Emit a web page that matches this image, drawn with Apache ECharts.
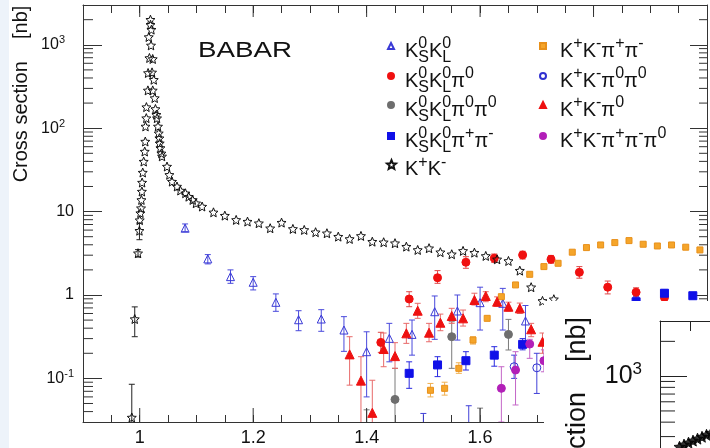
<!DOCTYPE html>
<html><head><meta charset="utf-8">
<script src="https://cdn.jsdelivr.net/npm/echarts@6/dist/echarts.min.js"></script>
<style>html,body{margin:0;padding:0;background:#fff}#c{width:710px;height:448px}</style>
</head><body><div id="c"></div>
<script>
// ---- data: [E (GeV), cross section (nb), errLow, errHigh] ----
const kk = [
[0.986,0.034,0.02,0.085],[0.9912,0.515,0.316,0.72],[0.997,3.17,2.85,3.5],[0.9995,5.9,4.6,7.3],
[1.0000,7.9],[1.0012,9.6],[1.0023,11.0],[1.0030,13.8],[1.0038,17.4],[1.0042,22.3],[1.0053,29.4],[1.0070,39.8],[1.0088,52.5],[1.0098,69.2],[1.0102,105],[1.0116,132],[1.0118,179],[1.0144,284],[1.0147,459],[1.0159,1240],[1.0171,695],[1.0189,2000],[1.0190,1740],[1.0199,984],[1.0206,1520],[1.0217,467],[1.0229,676],[1.0229,284],[1.0247,381],[1.0264,230],[1.0277,170],[1.0294,145],[1.0305,132],[1.0322,105],[1.0335,87],[1.0347,76],[1.0352,66],[1.0365,58],[1.0382,50],[1.0393,46],[1.0481,34.7],[1.0523,27.6],[1.0569,22.9],[1.0657,20.0],[1.0717,17.9],[1.0805,16.6],[1.0863,15.1],[1.0934,13.8],[1.0992,12.6],
[1.11,11.5],[1.13,9.8],[1.15,8.95],[1.17,7.95],[1.19,7.59],[1.21,7.26],[1.23,6.32],[1.25,7.38],[1.27,6.2],[1.29,6.03],[1.31,5.66],[1.33,5.5],[1.35,5.01],[1.37,4.70],[1.39,5.11],[1.41,4.36],[1.43,4.29],[1.45,4.18],[1.47,3.80],[1.49,3.47],[1.51,3.64],[1.53,3.26],[1.55,3.08],[1.57,3.38],[1.59,3.22],[1.61,2.94],[1.63,2.68],[1.65,2.56],[1.67,1.96],[1.69,1.24],[1.71,0.85],[1.73,0.89]
];
const ksklData = [
[1.08,6.32,5.75,7.11],[1.12,2.71,2.36,3.05],[1.16,1.66,1.38,2.0],[1.20,1.42,1.15,1.66],[1.24,0.817,0.637,1.03],[1.28,0.505,0.373,0.648],[1.32,0.515,0.367,0.667],[1.36,0.38,0.211,0.55],[1.40,0.209,0.06,0.362],[1.44,0.302,0.158,0.457],[1.48,0.337,0.19,0.501],[1.52,0.63,0.294,0.973],[1.56,0.643,0.288,1.0],[1.60,0.809,0.38,1.24],[1.64,0.795,0.38,1.2],[1.68,0.488,0.251,0.748]
];
const ksklPi0 = [
[1.425,0.27,0.205,0.357],[1.475,0.895,0.724,1.095],[1.525,1.61,1.38,1.96],[1.575,2.47,2.09,2.88],[1.625,2.76,2.45,3.1],[1.675,3.02,2.7,3.35],[1.725,2.68,2.4,2.98],[1.775,1.87,1.59,2.19],[1.825,1.24,1.03,1.47],[1.875,1.08,0.95,1.22],[1.925,0.93,0.8,1.06]
];
const ksklPi0Pi0 = [
[1.40,0.015,0.008,0.042],[1.45,0.056,0.02,0.132],[1.55,0.316,0.132,0.478],[1.60,0.015,0.008,0.044],[1.65,0.337,0.219,0.51]
];
const ksklPiPi = [
[1.475,0.115,0.076,0.158],[1.525,0.145,0.105,0.182],[1.575,0.163,0.126,0.209],[1.625,0.19,0.14,0.24],[1.675,0.256,0.22,0.30],[1.875,0.83,0.72,0.95],[1.925,1.05,0.96,1.15],[1.975,0.98,0.9,1.07]
];
const kkPiPi = [
[1.5125,0.072,0.06,0.087],[1.5375,0.076,0.063,0.09],[1.5625,0.132,0.115,0.154],[1.5875,0.288,0.258,0.316],[1.6125,0.525],[1.6375,0.954],[1.6625,1.32],[1.6875,1.77],[1.7125,2.19],[1.7375,2.40],[1.7625,3.26],[1.7875,3.70],[1.8125,3.98],[1.8375,4.25],[1.8625,4.49],[1.8875,4.06],[1.9125,3.87],[1.9375,3.98],[1.9625,3.74],[1.9875,3.47]
];
const kkPi0Pi0 = [
[1.50,0.015,0.008,0.038],[1.58,0.015,0.008,0.047],[1.66,0.138,0.10,0.19],[1.70,0.134,0.066,0.2]
];
const kkPi0 = [
[1.37,0.194,0.083,0.316],[1.39,0.094,0.02,0.182],[1.41,0.0386,0.02,0.095],[1.43,0.225,0.138,0.35],[1.45,0.185,0.132,0.268],[1.47,0.347,0.263,0.457],[1.49,0.648,0.525,0.795],[1.51,0.353,0.275,0.457],[1.53,0.465,0.373,0.59],[1.55,0.56,0.457,0.692],[1.57,0.525,0.424,0.66],[1.59,0.871,0.758,1.05],[1.61,0.973,0.831,1.095],[1.63,0.831,0.73,0.95],[1.65,0.724,0.64,0.82],[1.67,0.692,0.6,0.8],[1.69,0.388,0.316,0.457],[1.71,0.275,0.2,0.35]
];
const kkPiPiPi0 = [
[1.6375,0.076,0.03,0.138],[1.6625,0.126,0.048,0.209],[1.6875,0.258,0.174,0.294],[1.7125,0.163,0.12,0.22]
];
// inset (partially visible second chart)
const insetKK = [[1.3,245],[1.6,256],[1.9,266],[2.2,277],[2.5,288],[2.8,299],[3.1,311],[3.4,323]];

// axes
const xMin = 0.9, xMax = 2.0, yMin = 0.03, yMax = 3000;
const xLabelTicks = [1.0, 1.2, 1.4, 1.6, 1.8];
const yMinorTicks = [];
[0.01, 0.1, 1, 10, 100, 1000].forEach(d => { for (let m = 2; m <= 9; m++) { const v = +(d * m).toPrecision(3); if (v > yMin && v < yMax) yMinorTicks.push(v); } });
const insetYMin = 239, insetYMax = 3000;
const insetMinorTicks = [300, 400, 500, 600, 700, 800, 900, 2000];

const FONT = 'Liberation Sans';
const AX = '#333';
const STAR = 'path://M0,-100 L26.45,-36.4 L95.1,-30.9 L42.8,13.9 L58.8,80.9 L0,45 L-58.8,80.9 L-42.8,13.9 L-95.1,-30.9 L-26.45,-36.4 Z';
const CLEAR = 'rgba(0,0,0,0)';

const labels = {
  KSKL: '{a|K}{pz|0}{b|S}{a|K}{pz|0}{b|L}',
  KSKLpi0: '{a|K}{pz|0}{b|S}{a|K}{pz|0}{b|L}{a|π}{p|0}',
  KSKLpi0pi0: '{a|K}{pz|0}{b|S}{a|K}{pz|0}{b|L}{a|π}{p|0}{a|π}{p|0}',
  KSKLpipi: '{a|K}{pz|0}{b|S}{a|K}{pz|0}{b|L}{a|π}{p|+}{a|π}{p|-}',
  KK: '{a|K}{p|+}{a|K}{p|-}',
  KKpipi: '{a|K}{p|+}{a|K}{p|-}{a|π}{p|+}{a|π}{p|-}',
  KKpi0pi0: '{a|K}{p|+}{a|K}{p|-}{a|π}{p|0}{a|π}{p|0}',
  KKpi0: '{a|K}{p|+}{a|K}{p|-}{a|π}{p|0}',
  KKpipipi0: '{a|K}{p|+}{a|K}{p|-}{a|π}{p|+}{a|π}{p|-}{a|π}{p|0}'
};
const legendRich = {
  a: {fontSize: 20, fontFamily: FONT, color: '#111', lineHeight: 30, verticalAlign: 'middle'},
  p: {fontSize: 16, fontFamily: FONT, color: '#111', lineHeight: 7, verticalAlign: 'top'},
  pz: {fontSize: 16, fontFamily: FONT, color: '#111', lineHeight: 7, verticalAlign: 'top', width: 0},
  b: {fontSize: 16, fontFamily: FONT, color: '#111', lineHeight: 13, verticalAlign: 'bottom'}
};
// legend layout: [series name, marker left, marker centre y, marker size, text indent]
const legendRows = [
  ['KSKL', 387, 45, 6, 6], ['KSKLpi0', 387, 75, 6, 6], ['KSKLpi0pi0', 387, 104, 6, 6], ['KSKLpipi', 387, 135, 6, 6], ['KK', 386, 165, 9, 4],
  ['KKpipi', 539, 45, 6, 9], ['KKpi0pi0', 539, 75, 6, 9], ['KKpi0', 539, 104, 6, 9], ['KKpipipi0', 539, 135, 6, 9]
];

function errBar(color) {
  return function (params, api) {
    const lo = api.value(2), hi = api.value(3);
    if (lo == null || hi == null || isNaN(lo) || isNaN(hi)) return null;
    const x = api.value(0);
    const a = api.coord([x, hi]), b = api.coord([x, lo]);
    const st = {stroke: color, lineWidth: 1};
    return {type: 'group', children: [
      {type: 'line', shape: {x1: a[0], y1: a[1], x2: b[0], y2: b[1]}, style: st},
      {type: 'line', shape: {x1: a[0] - 3, y1: a[1], x2: a[0] + 3, y2: a[1]}, style: st},
      {type: 'line', shape: {x1: b[0] - 3, y1: b[1], x2: b[0] + 3, y2: b[1]}, style: st}
    ]};
  };
}
function mk(name, data, symbol, size, fill, stroke, errColor) {
  return [
    {type: 'custom', name: name + '_err', data: data, renderItem: errBar(errColor), clip: true,
     dimensions: ['x', 'y', 'lo', 'hi'], encode: {x: 0, y: 1}, z: 2, silent: true},
    {type: 'scatter', name: name, data: data.map(d => [d[0], d[1]]), symbol: symbol, symbolSize: size, clip: true,
     itemStyle: {color: fill, borderColor: stroke, borderWidth: 1, opacity: 1}, z: 3, silent: true}
  ];
}

const series = [].concat(
  mk('KSKL', ksklData, 'triangle', 8, CLEAR, '#3a3ad6', '#4a4adc'),
  mk('KSKLpi0', ksklPi0, 'circle', 8, '#f01010', '#f01010', '#e04848'),
  mk('KSKLpi0pi0', ksklPi0Pi0, 'circle', 8, '#6e6e6e', '#6e6e6e', '#7a7a7a'),
  mk('KSKLpipi', ksklPiPi, 'rect', 8, '#1010e8', '#1010e8', '#2a2ae0'),
  mk('KKpipi', kkPiPi, 'rect', 6, '#f5a52a', '#e8901a', '#f0b050'),
  mk('KKpi0pi0', kkPi0Pi0, 'circle', 8, CLEAR, '#3030d0', '#4040d8'),
  mk('KKpi0', kkPi0, 'triangle', 9, '#ee1111', '#ee1111', '#e86a6a'),
  mk('KKpipipi0', kkPiPiPi0, 'circle', 8, '#b21fb8', '#b21fb8', '#c466c8'),
  mk('KK', kk, STAR, 9, CLEAR, '#111', '#222')
);

// extra tick marks (log minor ticks and long x ticks) through the axes' own scales
const tickData = yMinorTicks.map(v => [0, v]).concat(xLabelTicks.map(v => [1, v]));
series.push({
  type: 'custom', name: 'ticks', data: tickData, silent: true, z: 4, clip: false,
  renderItem: function (params, api) {
    const kind = api.value(0), v = api.value(1);
    const st = {stroke: AX, lineWidth: 1};
    if (kind === 0) {
      const l = api.coord([xMin, v]), r = api.coord([xMax, v]);
      return {type: 'group', children: [
        {type: 'line', shape: {x1: l[0], y1: l[1], x2: l[0] + 10, y2: l[1]}, style: st},
        {type: 'line', shape: {x1: r[0] - 8, y1: r[1], x2: r[0], y2: r[1]}, style: st}]};
    }
    const b = api.coord([v, yMin]), t = api.coord([v, yMax]);
    return {type: 'group', children: [
      {type: 'line', shape: {x1: b[0], y1: b[1], x2: b[0], y2: b[1] - 14}, style: st},
      {type: 'line', shape: {x1: t[0], y1: t[1], x2: t[0], y2: t[1] + 12}, style: st}]};
  }
});
// inset series
series.push({
  type: 'custom', name: 'insetTicks', xAxisIndex: 2, yAxisIndex: 2, zlevel: 1, z: 4, silent: true, clip: false,
  data: insetMinorTicks.map(v => [0, v]),
  renderItem: function (params, api) {
    const p = api.coord([0, api.value(1)]);
    return {type: 'line', shape: {x1: p[0], y1: p[1], x2: p[0] + 15, y2: p[1]}, style: {stroke: '#222', lineWidth: 1}};
  }
});
series.push({
  type: 'scatter', name: 'insetKK', xAxisIndex: 2, yAxisIndex: 2, zlevel: 1, z: 3, silent: true, clip: false,
  data: insetKK, symbol: STAR, symbolSize: 11, itemStyle: {color: '#000', borderColor: '#000', borderWidth: 1}
});

function logLabel(v) {
  const e = Math.round(Math.log10(v));
  if (Math.abs(Math.log10(v) - e) > 1e-6) return '';
  if (e === 0) return '{n|1}';
  if (e === 1) return '{n|10}';
  if (e < 0) return '{n|10}{s|' + e + '}';
  return '{n|10}{s|' + e + '}{g| }';
}

const legends = legendRows.map(r => ({
  data: [r[0]], orient: 'vertical', left: r[1], top: r[2] - 9 - r[3] / 2 + 3, padding: 0,
  itemGap: 0, itemWidth: r[3], itemHeight: r[3], itemTextGap: 5, selectedMode: false,
  formatter: n => labels[n], textStyle: {rich: legendRich, padding: [10, 0, 0, r[4]]}
}));

const chart = echarts.init(document.getElementById('c'), null, {renderer: 'canvas'});
chart.setOption({
  animation: false,
  backgroundColor: '#fff',
  grid: [
    {left: 83, right: 1, top: 5, bottom: 26},
    {left: 660, top: 321, right: 0, bottom: 0}
  ],
  xAxis: [
    {type: 'value', gridIndex: 0, min: xMin, max: xMax, interval: 0.1, position: 'bottom',
     axisLine: {show: true, onZero: false, lineStyle: {color: AX}},
     axisTick: {show: true, inside: true, length: 7, lineStyle: {color: AX}},
     minorTick: {show: true, splitNumber: 2, length: 7, lineStyle: {color: AX}},
     splitLine: {show: false},
     axisLabel: {margin: 7, fontSize: 18, fontFamily: FONT, color: '#111', showMinLabel: true, showMaxLabel: true,
       formatter: function (v) { const k = Math.round(v * 10); if (k % 2 !== 0 || k < 10 || k > 18) return ''; return k === 10 ? '1' : (k / 10).toFixed(1); }}},
    {type: 'value', gridIndex: 0, min: xMin, max: xMax, interval: 0.1, position: 'top',
     axisLine: {show: true, onZero: false, lineStyle: {color: AX}},
     axisTick: {show: true, inside: true, length: 8, lineStyle: {color: AX}},
     minorTick: {show: true, splitNumber: 2, length: 8, lineStyle: {color: AX}},
     splitLine: {show: false}, axisLabel: {show: false}},
    {type: 'value', gridIndex: 1, min: 0, max: 10 / 3, interval: 2, position: 'top', zlevel: 1, z: 5,
     axisLine: {show: true, onZero: false, lineStyle: {color: '#222'}},
     axisTick: {show: true, inside: true, length: 10, lineStyle: {color: '#222'}},
     splitLine: {show: false}, axisLabel: {show: false}}
  ],
  yAxis: [
    {type: 'log', logBase: 10, gridIndex: 0, min: yMin, max: yMax, position: 'left',
     axisLine: {show: true, lineStyle: {color: AX}},
     axisTick: {show: true, inside: true, length: 19, lineStyle: {color: AX}},
     splitLine: {show: false},
     axisLabel: {margin: 9, color: '#111', fontFamily: FONT, showMinLabel: false, showMaxLabel: false, formatter: logLabel,
       rich: {n: {fontSize: 16, fontFamily: FONT, color: '#111', lineHeight: 20},
              s: {fontSize: 11, fontFamily: FONT, color: '#111', lineHeight: 6, verticalAlign: 'top'},
              g: {width: 9, fontSize: 11}}}},
    {type: 'log', logBase: 10, gridIndex: 0, min: yMin, max: yMax, position: 'right',
     axisLine: {show: true, lineStyle: {color: AX}},
     axisTick: {show: true, inside: true, length: 17, lineStyle: {color: AX}},
     splitLine: {show: false}, axisLabel: {show: false}},
    {type: 'log', logBase: 10, gridIndex: 1, min: insetYMin, max: insetYMax, position: 'left', zlevel: 1, z: 5,
     axisLine: {show: true, lineStyle: {color: '#222'}},
     axisTick: {show: true, inside: true, length: 27, lineStyle: {color: '#222'}},
     splitLine: {show: false},
     axisLabel: {margin: 18, showMinLabel: false, showMaxLabel: false,
       formatter: function (v) { return Math.abs(v - 1000) < 1e-6 ? '{n|10}{s|3}' : ''; },
       rich: {n: {fontSize: 25, fontFamily: FONT, color: '#111', lineHeight: 30},
              s: {fontSize: 17, fontFamily: FONT, color: '#111', lineHeight: 9, verticalAlign: 'top'}}}}
  ],
  legend: legends,
  graphic: [
    {type: 'rect', left: 0, top: 0, shape: {width: 9, height: 448}, style: {fill: '#edf3fa'}, z: 0, silent: true},
    {type: 'text', x: 198, y: 51, scaleX: 1.26, z: 10, silent: true,
     style: {text: 'BABAR', font: '22px "Liberation Sans"', fill: '#111', textAlign: 'left', textVerticalAlign: 'middle'}},
    {type: 'text', x: 21, y: 94, rotation: Math.PI / 2, z: 10, silent: true,
     style: {text: 'Cross section    [nb]', font: '20px "Liberation Sans"', fill: '#111', textAlign: 'center', textVerticalAlign: 'middle'}},
    {type: 'rect', x: 544, y: 301, shape: {width: 170, height: 150}, style: {fill: '#fff'}, z: 50, zlevel: 0, silent: true},
    {type: 'text', x: 578, y: 317, rotation: Math.PI / 2, z: 10, zlevel: 1, silent: true,
     style: {text: 'Cross section    [nb]', font: '27px "Liberation Sans"', fill: '#111', textAlign: 'right', textVerticalAlign: 'middle'}}
  ],
  series: series
});
</script></body></html>
